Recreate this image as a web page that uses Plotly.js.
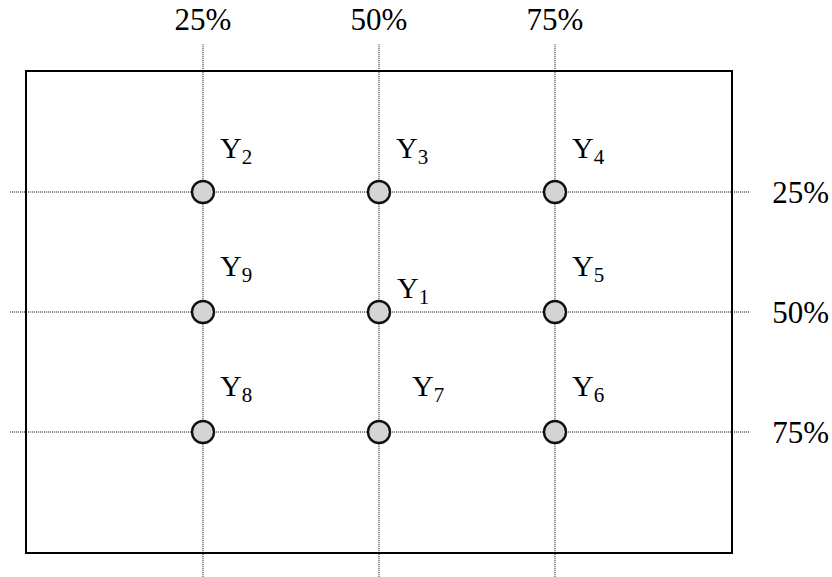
<!DOCTYPE html>
<html>
<head>
<meta charset="utf-8">
<script src="https://cdn.plot.ly/plotly-3.0.1.min.js"></script>
<style>html,body{margin:0;padding:0;background:#fff;}#chart{width:832px;height:577px;}</style>
</head>
<body>
<div id="chart"></div>
<script>
// Data
const pointNames = ["Y1","Y2","Y3","Y4","Y5","Y6","Y7","Y8","Y9"];
const pointX = [50, 25, 50, 75, 75, 75, 50, 25, 25];
const pointY = [50, 25, 25, 25, 50, 75, 75, 75, 50];
const gridValues = [25, 50, 75];
const tickLabels = ["25%", "50%", "75%"];

// Label offsets in pixels (layout only)
const labelShiftX = [16, 15, 15, 15, 15, 15, 31, 15, 15];
const labelShiftY = [22, 42, 42, 42, 44, 44, 44, 44, 44];

const FONT = "Liberation Serif, Times New Roman, serif";

const trace = {
  type: "scatter",
  mode: "markers",
  x: pointX,
  y: pointY,
  marker: {size: 22, color: "#d4d4d4", line: {color: "#111", width: 2.4}},
  hoverinfo: "skip",
  cliponaxis: false
};

const shapes = [];
gridValues.forEach(v => {
  shapes.push({type: "line", xref: "x", yref: "paper", x0: v, x1: v, y0: -0.06, y1: 1.058,
    line: {color: "#000", width: 1, dash: "1px,1px"}, layer: "below"});
  shapes.push({type: "line", xref: "paper", yref: "y", x0: -0.024, x1: 1.027, y0: v, y1: v,
    line: {color: "#000", width: 1, dash: "1px,1px"}, layer: "below"});
});

const annotations = pointNames.map((n, i) => ({
  x: pointX[i], y: pointY[i], xref: "x", yref: "y",
  text: n.charAt(0) + "<sub>" + n.slice(1) + "</sub>",
  showarrow: false, xanchor: "left", yanchor: "middle",
  xshift: labelShiftX[i], yshift: labelShiftY[i],
  font: {family: FONT, size: 30, color: "#000"}
}));

const layout = {
  width: 832, height: 577,
  margin: {l: 27, r: 101, t: 72, b: 25, pad: 0},
  paper_bgcolor: "#fff", plot_bgcolor: "#fff",
  showlegend: false,
  xaxis: {range: [0, 100], side: "top", tickvals: gridValues, ticktext: tickLabels,
    ticks: "", showgrid: false, zeroline: false, showline: true, mirror: true,
    linecolor: "#000", linewidth: 2, ticklabelstandoff: 28, fixedrange: true,
    tickfont: {family: FONT, size: 31, color: "#000"}},
  yaxis: {range: [100, 0], side: "right", tickvals: gridValues, ticktext: tickLabels,
    ticks: "", showgrid: false, zeroline: false, showline: true, mirror: true,
    linecolor: "#000", linewidth: 2, ticklabelstandoff: 33, fixedrange: true,
    tickfont: {family: FONT, size: 31, color: "#000"}},
  shapes: shapes,
  annotations: annotations
};

Plotly.newPlot("chart", [trace], layout, {displayModeBar: false, staticPlot: true});
</script>
</body>
</html>
